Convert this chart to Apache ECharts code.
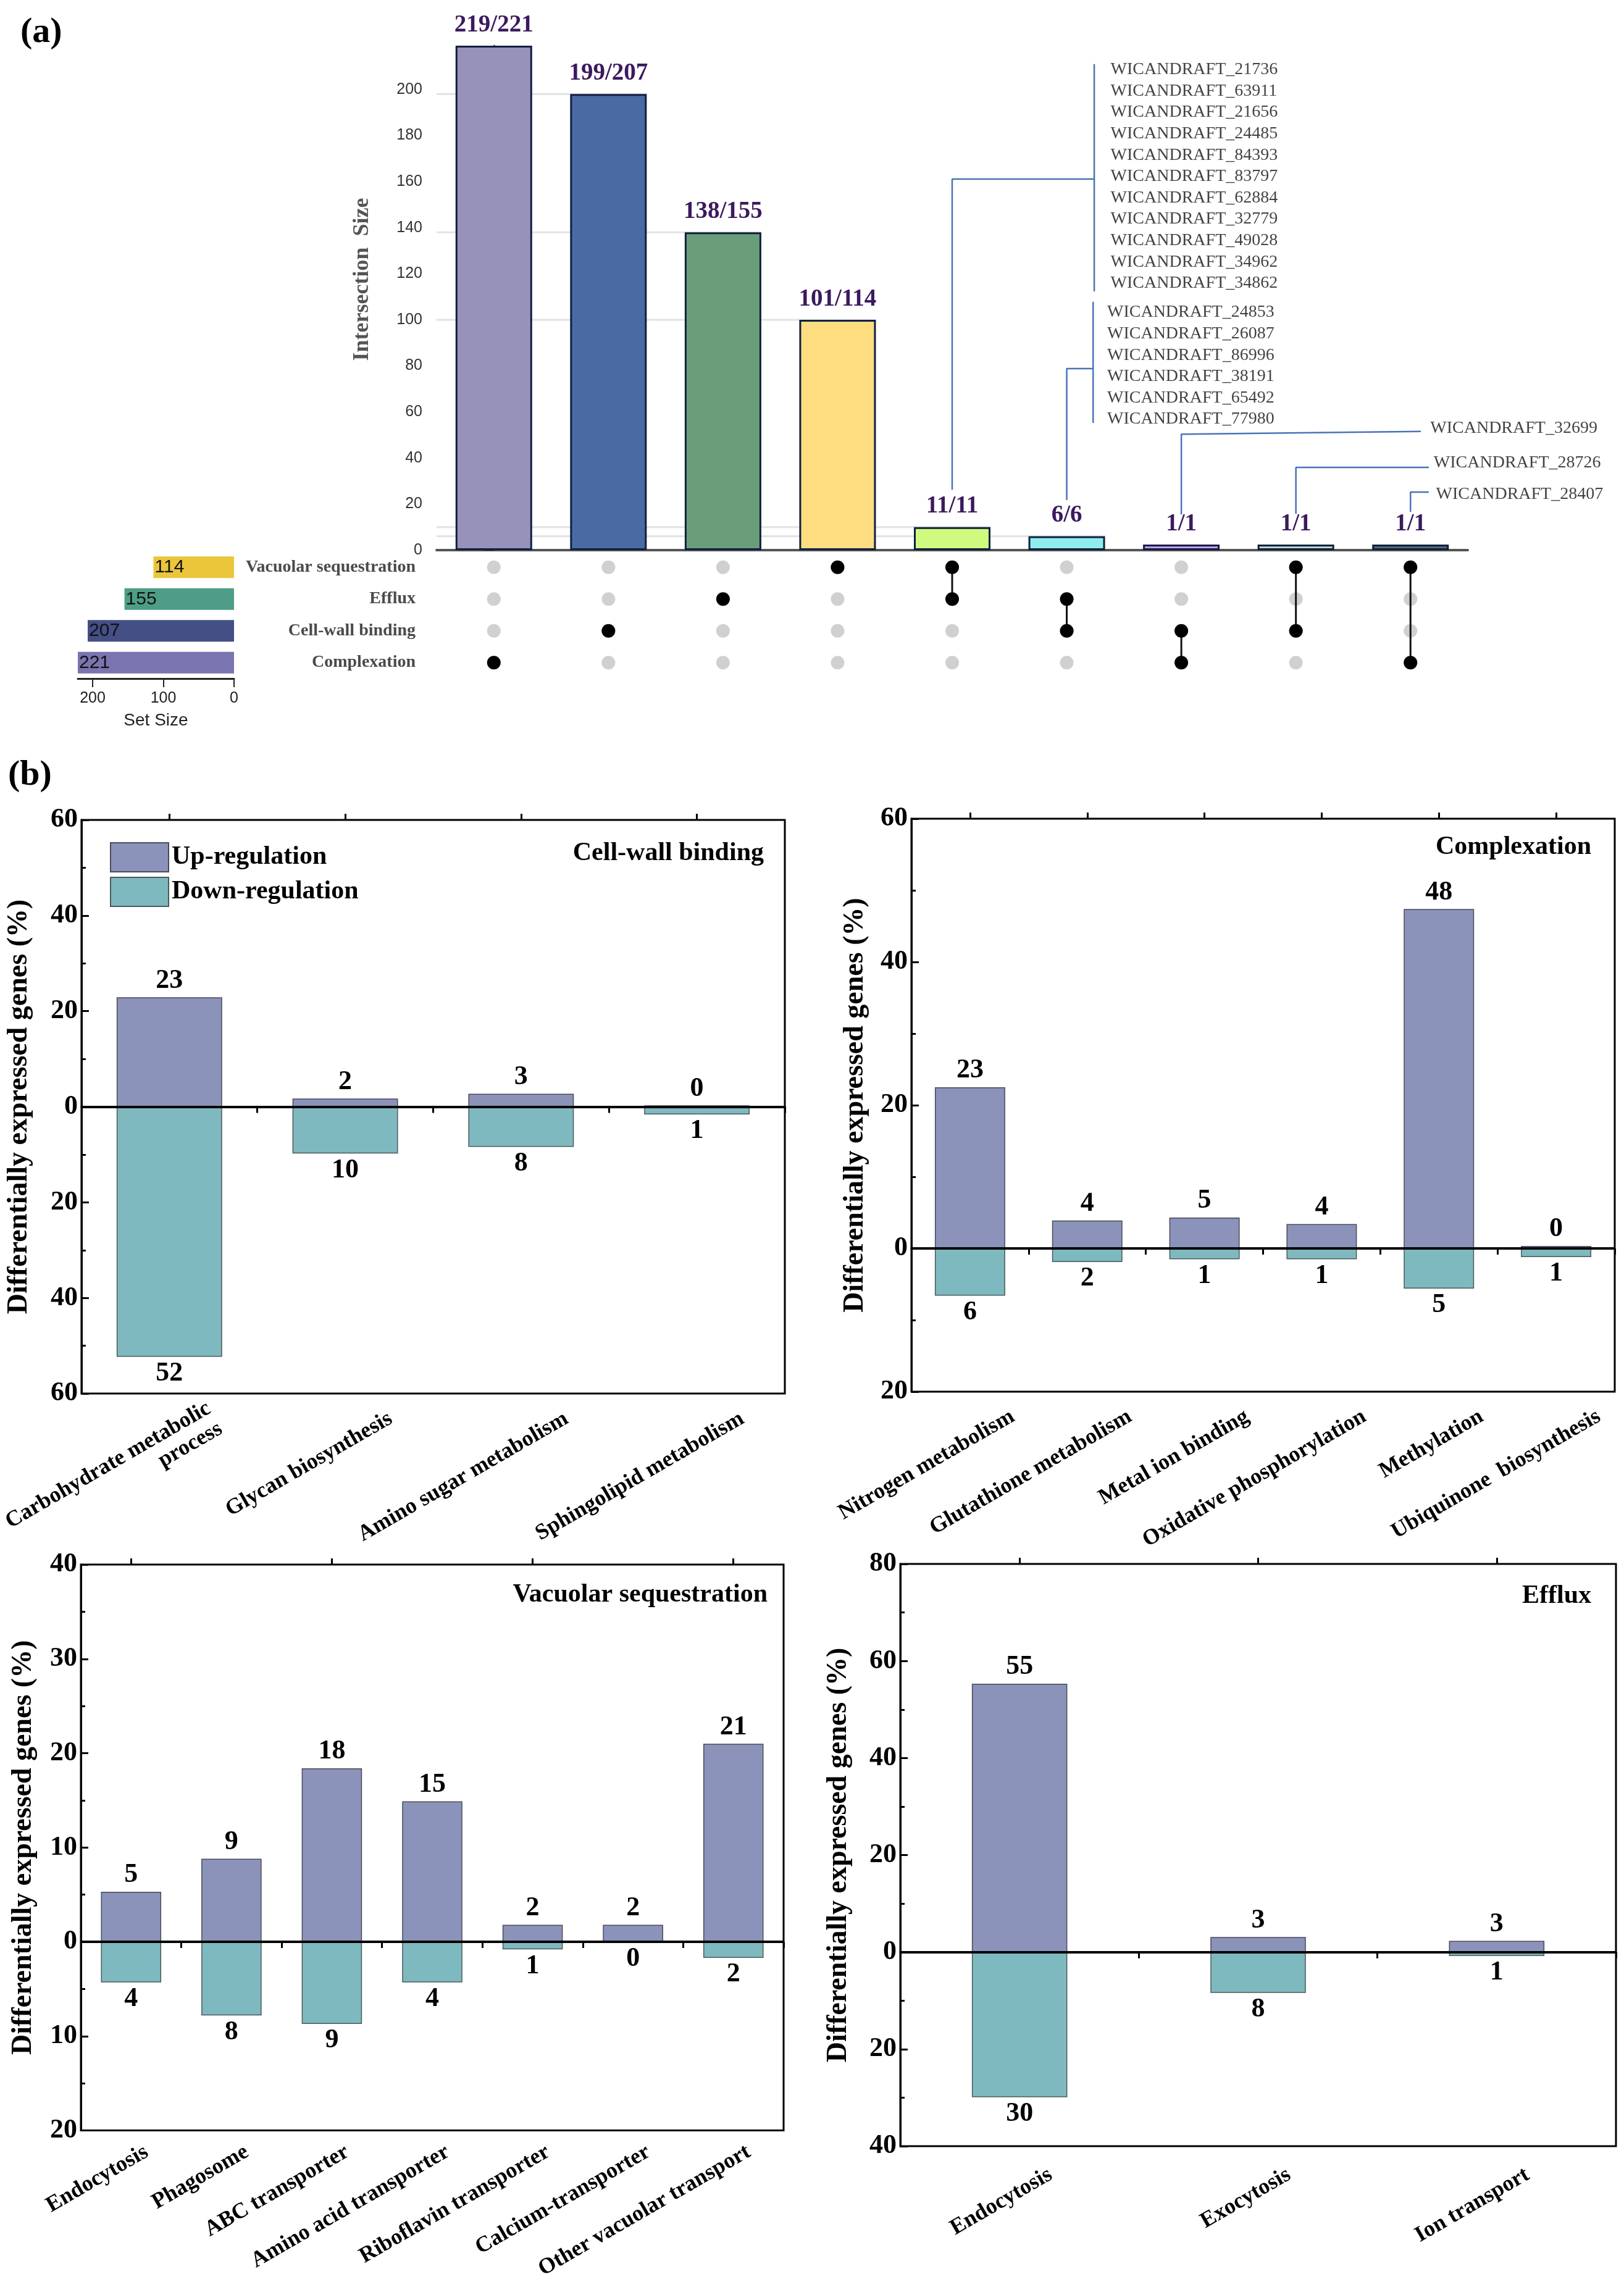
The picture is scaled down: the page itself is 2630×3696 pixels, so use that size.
<!DOCTYPE html>
<html>
<head>
<meta charset="utf-8">
<script src="https://cdn.jsdelivr.net/npm/echarts@6/dist/echarts.min.js"></script>
<style>
html, body { margin: 0; padding: 0; background: #fff; }
#main { width: 2630px; height: 3696px; }
</style>
</head>
<body>
<div id="main"></div>
<script>
var SERIF = '"Liberation Serif","Times New Roman",serif';
var SANS = '"Liberation Sans",Arial,sans-serif';

// ---- (a) UpSet data ----
var interIdx = [0, 1, 2, 3, 4, 5, 6, 7, 8];
var interSize = [219, 198, 138, 100, 10, 6, 2.4, 2.4, 2.4];
var interLabels = ['219/221', '199/207', '138/155', '101/114', '11/11', '6/6', '1/1', '1/1', '1/1'];
var interColors = ['#9792B9', '#4A6AA3', '#6A9E7B', '#FEDD80', '#CFF97F', '#8FEDEE', '#C99BF0', '#B5D8C6', '#5A6670'];
var setNames = ['Complexation', 'Cell-wall binding', 'Efflux', 'Vacuolar sequestration'];
var setSizes = [221, 207, 155, 114];
var setColors = ['#7A74B0', '#434F85', '#4E9E87', '#EBC63A'];
// set indices (into setNames) present in each intersection column
var members = [[0], [1], [2], [3], [3, 2], [2, 1], [1, 0], [3, 1], [3, 0]];

var genes11 = ['WICANDRAFT_21736', 'WICANDRAFT_63911', 'WICANDRAFT_21656', 'WICANDRAFT_24485',
  'WICANDRAFT_84393', 'WICANDRAFT_83797', 'WICANDRAFT_62884', 'WICANDRAFT_32779',
  'WICANDRAFT_49028', 'WICANDRAFT_34962', 'WICANDRAFT_34862'];
var genes6 = ['WICANDRAFT_24853', 'WICANDRAFT_26087', 'WICANDRAFT_86996', 'WICANDRAFT_38191',
  'WICANDRAFT_65492', 'WICANDRAFT_77980'];
var genesA = ['WICANDRAFT_32699'];
var genesB = ['WICANDRAFT_28726'];
var genesC = ['WICANDRAFT_28407'];

// ---- (b) data ----
var cwCats = ['Carbohydrate metabolic\nprocess', 'Glycan biosynthesis', 'Amino sugar metabolism', 'Sphingolipid metabolism'];
var cwUp = [22.9, 1.7, 2.7, 0.3];
var cwDown = [52.3, 9.8, 8.4, 1.6];
var cwUpLab = ['23', '2', '3', '0'];
var cwDownLab = ['52', '10', '8', '1'];

var cxCats = ['Nitrogen metabolism', 'Glutathione metabolism', 'Metal ion binding', 'Oxidative phosphorylation', 'Methylation', 'Ubiquinone  biosynthesis'];
var cxUp = [22.5, 3.9, 4.3, 3.4, 47.4, 0.35];
var cxDown = [6.6, 1.9, 1.5, 1.5, 5.6, 1.2];
var cxUpLab = ['23', '4', '5', '4', '48', '0'];
var cxDownLab = ['6', '2', '1', '1', '5', '1'];

var vsCats = ['Endocytosis', 'Phagosome', 'ABC transporter', 'Amino acid transporter', 'Riboflavin transporter', 'Calcium-transporter', 'Other vacuolar transport'];
var vsUp = [5.3, 8.8, 18.4, 14.9, 1.8, 1.8, 21.0];
var vsDown = [4.3, 7.8, 8.7, 4.3, 0.8, 0, 1.7];
var vsUpLab = ['5', '9', '18', '15', '2', '2', '21'];
var vsDownLab = ['4', '8', '9', '4', '1', '0', '2'];

var efCats = ['Endocytosis', 'Exocytosis', 'Ion transport'];
var efUp = [55.3, 3.1, 2.3];
var efDown = [29.9, 8.4, 0.8];
var efUpLab = ['55', '3', '3'];
var efDownLab = ['30', '8', '1'];

// ---- layout ----
var geneStep = 9.28;
var geneBlocks = [
  { names: genes11, x: 5.38, y: 208.6, bracket: [[5.24, 211], [5.24, 112.3]], leader: [[4, 26.2], [4, 161.1], [5.24, 161.1]] },
  { names: genes6, x: 5.35, y: 103.2, bracket: [[5.23, 107.8], [5.23, 55.2]], leader: [[5, 21.7], [5, 78.8], [5.23, 78.8]] },
  { names: genesA, x: 8.17, y: 52.8, leader: [[6, 15.5], [6, 50.3], [8.09, 51.5]] },
  { names: genesB, x: 8.20, y: 37.8, leader: [[7, 15.8], [7, 35.9], [8.16, 35.9]] },
  { names: genesC, x: 8.22, y: 24.1, leader: [[8, 16.6], [8, 25.2], [8.16, 25.2]] }
];

var panels = [
  { title: 'Cell-wall binding', cats: cwCats, up: cwUp, down: cwDown, upLab: cwUpLab, downLab: cwDownLab,
    min: -60, max: 60, interval: 20, grid: { left: 131, top: 1328, width: 1140, height: 929 },
    titlePos: { right: 1393, top: 1361 }, barWidth: '60%', nameGap: 78, shift: 85, margin: 81 },
  { title: 'Complexation', cats: cxCats, up: cxUp, down: cxDown, upLab: cxUpLab, downLab: cxDownLab,
    min: -20, max: 60, interval: 20, grid: { left: 1476, top: 1326, width: 1139, height: 928 },
    titlePos: { right: 53, top: 1351 }, barWidth: '60%', nameGap: 68, shift: 80, margin: 78 },
  { title: 'Vacuolar sequestration', cats: vsCats, up: vsUp, down: vsDown, upLab: vsUpLab, downLab: vsDownLab,
    min: -20, max: 40, interval: 10, grid: { left: 131, top: 2534, width: 1138, height: 932 },
    titlePos: { right: 1387, top: 2562 }, barWidth: '60%', nameGap: 70, shift: 29, margin: 47 },
  { title: 'Efflux', cats: efCats, up: efUp, down: efDown, upLab: efUpLab, downLab: efDownLab,
    min: -40, max: 80, interval: 20, grid: { left: 1458, top: 2533, width: 1159, height: 943 },
    titlePos: { right: 53, top: 2564 }, barWidth: '40%', nameGap: 77, shift: 58, margin: 73 }
];

var chart = echarts.init(document.getElementById('main'));

var grids = [
  { left: 707, top: 74, width: 1670, height: 817 },
  { left: 707, top: 893, width: 1670, height: 206 },
  { left: 126, top: 893, width: 253, height: 206 }
];
var xAxes = [
  { gridIndex: 0, type: 'value', min: -0.5, max: 8.5,
    axisLine: { show: true, lineStyle: { color: '#555', width: 4 } },
    axisTick: { show: false }, axisLabel: { show: false }, splitLine: { show: false } },
  { gridIndex: 1, type: 'value', min: -0.5, max: 8.5, show: false },
  { gridIndex: 2, type: 'value', min: 0, max: 221, interval: 100, inverse: true,
    axisLine: { show: true, lineStyle: { color: '#222', width: 3 } },
    axisTick: { show: true, length: 14, lineStyle: { color: '#222', width: 2 } },
    axisLabel: { showMaxLabel: false, margin: 20, fontFamily: SANS, fontSize: 25, color: '#222' },
    splitLine: { show: false },
    name: 'Set Size', nameLocation: 'middle', nameGap: 54,
    nameTextStyle: { fontFamily: SANS, fontSize: 28, color: '#222' } }
];
var yAxes = [
  { gridIndex: 0, type: 'value', min: 0, max: 219, interval: 20,
    axisLine: { show: true, lineStyle: { color: '#222', width: 2.5 } },
    axisTick: { show: true, length: 15, lineStyle: { color: '#333', width: 2 } },
    axisLabel: { showMaxLabel: false, margin: 23, fontFamily: SANS, fontSize: 25, color: '#333' },
    splitLine: { show: false },
    name: 'Intersection  Size', nameLocation: 'middle', nameGap: 102,
    nameTextStyle: { fontFamily: SERIF, fontWeight: 'bold', fontSize: 36, color: '#555', padding: [0, 0, 0, 60] } },
  { gridIndex: 1, type: 'category', data: setNames,
    axisLine: { show: false }, axisTick: { show: false },
    axisLabel: { margin: 34, fontFamily: SERIF, fontWeight: 'bold', fontSize: 28, color: '#4a4a4a' } },
  { gridIndex: 2, type: 'category', data: setNames, show: false }
];

var series = [];

// bar-top reference lines
interIdx.forEach(function (i) {
  if (i === 0 || interSize[i] < 5) return;
  series.push({ type: 'line', xAxisIndex: 0, yAxisIndex: 0, silent: true, symbol: 'none', z: 1,
    lineStyle: { color: '#e2e2e2', width: 3 },
    data: [[-0.5, interSize[i]], [i + 0.334, interSize[i]]] });
});

series.push({
  type: 'bar', xAxisIndex: 0, yAxisIndex: 0, barWidth: 124,
  data: interIdx.map(function (i) {
    return { value: [i, interSize[i]], itemStyle: { color: interColors[i] } };
  }),
  itemStyle: { borderColor: '#0F1F3F', borderWidth: 3 },
  label: { show: true, position: 'top', distance: 14,
    formatter: function (p) { return interLabels[p.dataIndex]; },
    fontFamily: SERIF, fontWeight: 'bold', fontSize: 39, color: '#3B1A5E' }
});

geneBlocks.forEach(function (b) {
  var paths = [b.leader];
  if (b.bracket) paths.push(b.bracket);
  paths.forEach(function (p) {
    series.push({ type: 'line', xAxisIndex: 0, yAxisIndex: 0, clip: false, silent: true, symbol: 'none', z: 3,
      lineStyle: { color: '#4A72B8', width: 2.5 }, data: p });
  });
  series.push({
    type: 'scatter', xAxisIndex: 0, yAxisIndex: 0, clip: false, silent: true, symbolSize: 1,
    itemStyle: { color: 'rgba(0,0,0,0)' },
    data: b.names.map(function (n, k) { return { name: n, value: [b.x, b.y - k * geneStep] }; }),
    label: { show: true, position: 'right', distance: 0, formatter: '{b}',
      fontFamily: SERIF, fontSize: 28, color: '#111' }
  });
});

// matrix
var greyDots = [];
interIdx.forEach(function (i) {
  setNames.forEach(function (s, k) { greyDots.push([i, k]); });
});
series.push({ type: 'scatter', xAxisIndex: 1, yAxisIndex: 1, symbolSize: 22, silent: true,
  itemStyle: { color: '#D0D0D0', opacity: 1 }, data: greyDots, z: 2 });
members.forEach(function (m, i) {
  if (m.length < 2) return;
  series.push({ type: 'line', xAxisIndex: 1, yAxisIndex: 1, symbol: 'none', silent: true, z: 3,
    lineStyle: { color: '#111', width: 3 },
    data: [[i, Math.min.apply(null, m)], [i, Math.max.apply(null, m)]] });
});
var blackDots = [];
members.forEach(function (m, i) { m.forEach(function (k) { blackDots.push([i, k]); }); });
series.push({ type: 'scatter', xAxisIndex: 1, yAxisIndex: 1, symbolSize: 22, silent: true,
  itemStyle: { color: '#000', opacity: 1 }, data: blackDots, z: 4 });

// set sizes
series.push({
  type: 'bar', xAxisIndex: 2, yAxisIndex: 2, barWidth: 35,
  data: setSizes.map(function (v, k) { return { value: v, itemStyle: { color: setColors[k] } }; }),
  label: { show: true, position: 'insideLeft', distance: 2, fontFamily: SANS, fontSize: 30, color: '#111' }
});

var titles = [
  { text: '(a)', left: 33, top: 24, padding: 0, textStyle: { fontFamily: SERIF, fontWeight: 'bold', fontSize: 58, color: '#000' } },
  { text: '(b)', left: 13, top: 1227, padding: 0, textStyle: { fontFamily: SERIF, fontWeight: 'bold', fontSize: 58, color: '#000' } }
];

panels.forEach(function (p, k) {
  var g = grids.length;
  grids.push(Object.assign({ show: true, borderColor: '#000', borderWidth: 3, backgroundColor: 'transparent' }, p.grid));
  var xi = xAxes.length;
  xAxes.push({
    gridIndex: g, type: 'category', data: p.cats,
    axisLine: { show: true, lineStyle: { color: '#000', width: 3 } },
    axisTick: { show: true, length: 10, lineStyle: { color: '#000', width: 3 } },
    axisLabel: { interval: 0, rotate: 30, margin: p.margin, padding: [0, -p.shift, 0, 0],
      fontFamily: SERIF, fontWeight: 'bold', fontSize: 36, color: '#000', lineHeight: 38 }
  });
  xAxes.push({
    gridIndex: g, type: 'category', data: p.cats,
    axisLine: { show: false }, axisLabel: { show: false },
    axisTick: { show: true, alignWithLabel: true, length: 10, lineStyle: { color: '#000', width: 3 } }
  });
  var yi = yAxes.length;
  yAxes.push({
    gridIndex: g, type: 'value', min: p.min, max: p.max, interval: p.interval,
    axisLine: { show: true, lineStyle: { color: '#000', width: 3 } },
    axisTick: { show: true, inside: true, length: 12, lineStyle: { color: '#000', width: 3 } },
    minorTick: { show: true, splitNumber: 2, length: 7, lineStyle: { color: '#000', width: 3 } },
    splitLine: { show: false },
    axisLabel: { margin: 6, formatter: function (v) { return Math.abs(v); },
      fontFamily: SERIF, fontWeight: 'bold', fontSize: 44, color: '#000' },
    name: 'Differentially expressed genes (%)', nameLocation: 'middle', nameGap: p.nameGap,
    nameTextStyle: { fontFamily: SERIF, fontWeight: 'bold', fontSize: 46, color: '#000' }
  });
  series.push({
    name: 'Up-regulation', type: 'bar', xAxisIndex: xi, yAxisIndex: yi, barWidth: p.barWidth, barGap: '-100%',
    data: p.up,
    itemStyle: { color: '#8C93BA', borderColor: '#4a4a5a', borderWidth: 1.5 },
    label: { show: true, position: 'top', distance: 5,
      formatter: function (q) { return p.upLab[q.dataIndex]; },
      fontFamily: SERIF, fontWeight: 'bold', fontSize: 44, color: '#000' },
    markLine: { symbol: 'none', silent: true, label: { show: false },
      lineStyle: { color: '#000', width: 4, type: 'solid' }, data: [{ yAxis: 0 }] }
  });
  series.push({
    name: 'Down-regulation', type: 'bar', xAxisIndex: xi, yAxisIndex: yi, barWidth: p.barWidth, barGap: '-100%',
    data: p.down.map(function (v) { return -v; }),
    itemStyle: { color: '#7EB9C0', borderColor: '#4a5a5a', borderWidth: 1.5 },
    label: { show: true, position: 'bottom', distance: 5,
      formatter: function (q) { return p.downLab[q.dataIndex]; },
      fontFamily: SERIF, fontWeight: 'bold', fontSize: 44, color: '#000' }
  });
  titles.push({ text: p.title, right: p.titlePos.right, top: p.titlePos.top, padding: 0,
    textStyle: { fontFamily: SERIF, fontWeight: 'bold', fontSize: 42, color: '#000' } });
});

var option = {
  animation: false,
  backgroundColor: '#fff',
  title: titles,
  legend: {
    data: ['Up-regulation', 'Down-regulation'],
    left: 178, top: 1364, orient: 'vertical', padding: 0,
    itemWidth: 94, itemHeight: 47, itemGap: 7, icon: 'rect',
    textStyle: { fontFamily: SERIF, fontWeight: 'bold', fontSize: 42, color: '#000' }
  },
  grid: grids,
  xAxis: xAxes,
  yAxis: yAxes,
  series: series
};

chart.setOption(option);
</script>
</body>
</html>
